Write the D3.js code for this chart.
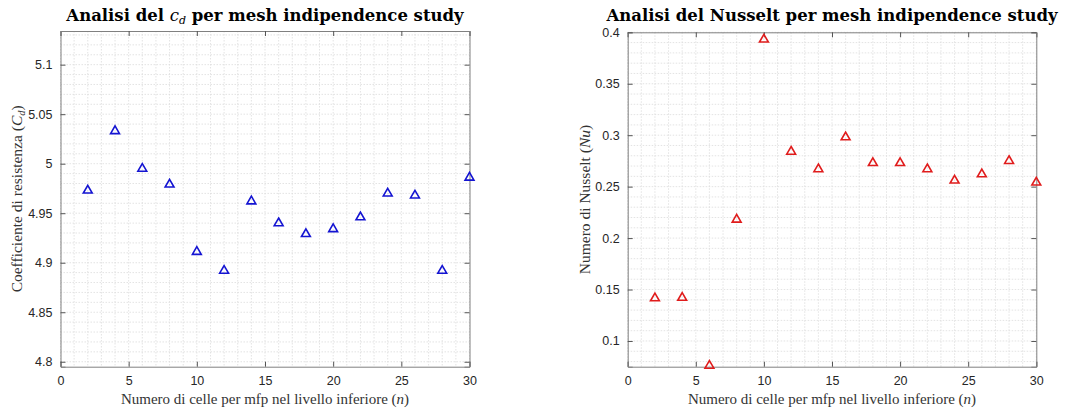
<html>
<script src="https://d3js.org/d3.v7.min.js"></script>
<body style="margin:0;background:#fff">
</body>
<script>
// mesh independence data
const nCells = [2, 4, 6, 8, 10, 12, 14, 16, 18, 20, 22, 24, 26, 28, 30];
const cdValues = [4.974, 5.034, 4.996, 4.980, 4.912, 4.893, 4.963, 4.941, 4.930, 4.935, 4.947, 4.971, 4.969, 4.893, 4.987];
const nuValues = [0.1425, 0.143, 0.077, 0.219, 0.394, 0.285, 0.268, 0.299, 0.274, 0.274, 0.268, 0.257, 0.263, 0.276, 0.255];
const xTicks = [0, 5, 10, 15, 20, 25, 30];
const cdTicks = [4.8, 4.85, 4.9, 4.95, 5, 5.05, 5.1];
const nuTicks = [0.1, 0.15, 0.2, 0.25, 0.3, 0.35, 0.4];

let width = 1091;
let height = 410;
let svg = d3.select("body").append("svg")
    .attr("width", width)
    .attr("height", height);

const serif = "'DejaVu Serif', serif";
const labelSerif = "'Liberation Serif', serif";
const sans = "'Liberation Sans', Arial, sans-serif";

function drawPanel(opt) {
    let x = d3.scaleLinear().domain([0, 30]).range([opt.left, opt.right]);
    let y = d3.scaleLinear().domain(opt.ydom).range([opt.bottom, opt.top]);
    let g = svg.append("g");

    // minor grid
    let xMinor = d3.range(0, 31, 1);
    let yMinor = d3.range(Math.ceil(opt.ydom[0] / opt.minor), Math.floor(opt.ydom[1] / opt.minor) + 1).map(k => k * opt.minor);
    g.selectAll(".vgrid").data(xMinor).join("line")
        .attr("x1", d => x(d)).attr("x2", d => x(d))
        .attr("y1", opt.top).attr("y2", opt.bottom)
        .attr("stroke", "#dcdcdc").attr("stroke-width", 0.8)
        .attr("stroke-dasharray", "1.5,1.5");
    g.selectAll(".hgrid").data(yMinor).join("line")
        .attr("y1", d => y(d)).attr("y2", d => y(d))
        .attr("x1", opt.left).attr("x2", opt.right)
        .attr("stroke", "#dcdcdc").attr("stroke-width", 0.8)
        .attr("stroke-dasharray", "1.5,1.5");

    // axes (ticks inside, box on)
    let axB = d3.axisBottom(x).tickValues(xTicks).tickSize(-5).tickPadding(9).tickFormat(d3.format("d"));
    let axT = d3.axisTop(x).tickValues(xTicks).tickSize(-5).tickFormat("");
    let axL = d3.axisLeft(y).tickValues(opt.ticks).tickSize(-5).tickPadding(8).tickFormat(d => String(+d.toFixed(2)));
    let axR = d3.axisRight(y).tickValues(opt.ticks).tickSize(-5).tickFormat("");
    [[axB, `translate(0,${opt.bottom})`], [axT, `translate(0,${opt.top})`],
     [axL, `translate(${opt.left},0)`], [axR, `translate(${opt.right},0)`]].forEach(([ax, tr]) => {
        let a = g.append("g").attr("transform", tr).call(ax);
        a.select(".domain").attr("stroke", "#808080").attr("stroke-width", 1);
        a.selectAll(".tick line").attr("stroke", "#555");
        a.selectAll("text").attr("font-family", sans).attr("font-size", 12.5).attr("fill", "#262626");
    });

    // markers
    let tri = d3.symbol().type(d3.symbolTriangle).size(34);
    g.selectAll(".pt").data(opt.values).join("path")
        .attr("d", tri)
        .attr("transform", (d, i) => `translate(${x(nCells[i])},${y(d) + 1})`)
        .attr("fill", "none")
        .attr("stroke", opt.color)
        .attr("stroke-width", 1.6);

    // title
    let t = g.append("text")
        .attr("x", (opt.left + opt.right) / 2).attr("y", opt.titleY)
        .attr("text-anchor", "middle")
        .attr("font-family", serif).attr("font-weight", "bold").attr("font-size", 16.5)
        .attr("fill", "#000");
    opt.title(t);

    // x label
    let xl = g.append("text")
        .attr("x", (opt.left + opt.right) / 2).attr("y", 404)
        .attr("text-anchor", "middle")
        .attr("font-family", labelSerif).attr("font-size", 15).attr("fill", "#333");
    xl.append("tspan").text("Numero di celle per mfp nel livello inferiore (");
    xl.append("tspan").attr("font-style", "italic").text("n");
    xl.append("tspan").text(")");

    // y label
    let yl = g.append("text")
        .attr("transform", `translate(${opt.ylabelX},${(opt.top + opt.bottom) / 2}) rotate(-90)`)
        .attr("text-anchor", "middle")
        .attr("font-family", labelSerif).attr("font-size", 15.5).attr("fill", "#333");
    opt.ylabel(yl);
}

drawPanel({
    left: 60.5, right: 469.5, top: 31, bottom: 366.7,
    ydom: [4.795, 5.134], ticks: cdTicks, minor: 0.01,
    values: cdValues, color: "#1414d2", titleY: 21, ylabelX: 22,
    title: t => {
        t.append("tspan").text("Analisi del ");
        t.append("tspan").attr("font-style", "italic").attr("font-weight", "normal").text("c");
        t.append("tspan").attr("font-style", "italic").attr("font-weight", "normal").attr("font-size", 11).attr("dy", 3).text("d");
        t.append("tspan").attr("dy", -3).text(" per mesh indipendence study");
    },
    ylabel: t => {
        t.append("tspan").text("Coefficiente di resistenza (");
        t.append("tspan").attr("font-style", "italic").text("C");
        t.append("tspan").attr("font-style", "italic").attr("font-size", 10.5).attr("dy", 3).text("d");
        t.append("tspan").attr("dy", -3).text(")");
    }
});

drawPanel({
    left: 627.7, right: 1036.3, top: 32.3, bottom: 366.7,
    ydom: [0.075, 0.4], ticks: nuTicks, minor: 0.01,
    values: nuValues, color: "#e01c1c", titleY: 21, ylabelX: 590,
    title: t => {
        t.text("Analisi del Nusselt per mesh indipendence study");
    },
    ylabel: t => {
        t.append("tspan").text("Numero di Nusselt (");
        t.append("tspan").attr("font-style", "italic").text("Nu");
        t.append("tspan").text(")");
    }
});
</script>
</html>
